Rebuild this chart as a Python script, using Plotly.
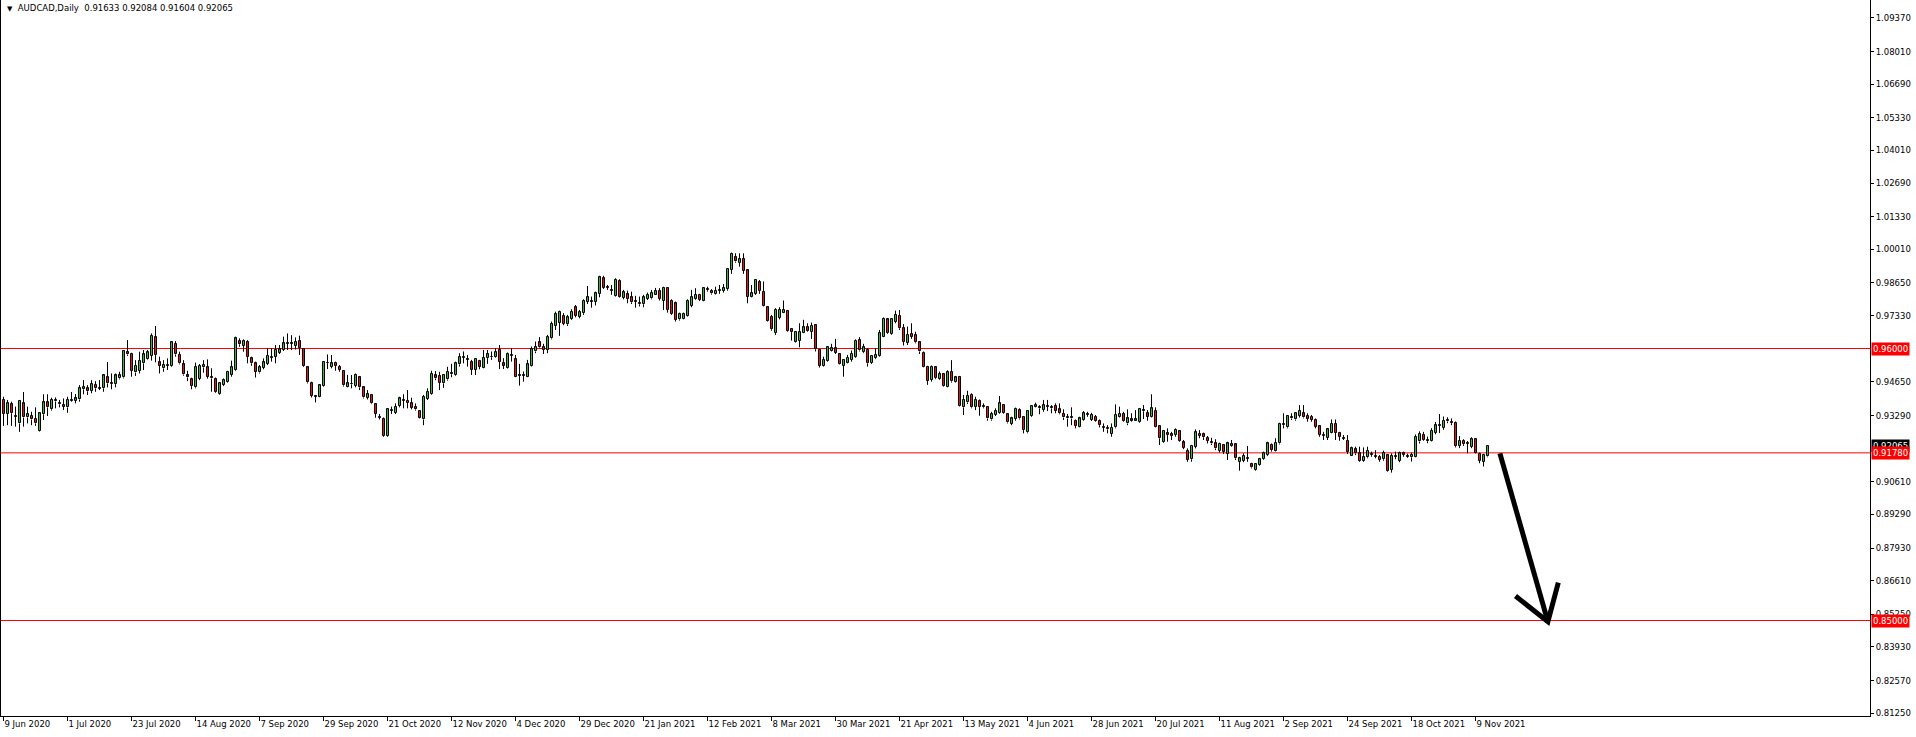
import plotly.graph_objects as go

# ---------------- data (AUDCAD daily) ----------------
date_ticks = ["9 Jun 2020", "1 Jul 2020", "23 Jul 2020", "14 Aug 2020", "7 Sep 2020",
              "29 Sep 2020", "21 Oct 2020", "12 Nov 2020", "4 Dec 2020", "29 Dec 2020",
              "21 Jan 2021", "12 Feb 2021", "8 Mar 2021", "30 Mar 2021", "21 Apr 2021",
              "13 May 2021", "4 Jun 2021", "28 Jun 2021", "20 Jul 2021", "11 Aug 2021",
              "2 Sep 2021", "24 Sep 2021", "18 Oct 2021", "9 Nov 2021"]
bars_per_tick = 16

opens = [
    .9392, .9335, .9375, .9327, .9297, .9378, .9321, .9327, .9315, .9265,  # 0
    .9334, .9382, .9354, .9386, .9378, .9371, .9362, .9389, .9388, .9394,  # 10
    .9435, .9439, .9429, .9452, .9440, .9439, .9483, .9459, .9456, .9479,  # 20
    .9483, .9587, .9579, .9503, .9510, .9540, .9556, .9571, .9645, .9544,  # 30
    .9520, .9531, .9530, .9618, .9574, .9536, .9491, .9475, .9443, .9478,  # 40
    .9524, .9524, .9483, .9475, .9415, .9452, .9466, .9493, .9513, .9630,  # 50
    .9611, .9628, .9560, .9540, .9503, .9522, .9537, .9563, .9567, .9583,  # 60
    .9594, .9620, .9621, .9611, .9630, .9598, .9524, .9459, .9406, .9402,  # 70
    .9450, .9541, .9526, .9543, .9526, .9509, .9446, .9455, .9450, .9483,  # 80
    .9443, .9401, .9412, .9375, .9324, .9315, .9246, .9351, .9340, .9367,  # 90
    .9389, .9389, .9378, .9365, .9347, .9313, .9397, .9415, .9491, .9489,  # 100
    .9459, .9475, .9500, .9493, .9536, .9562, .9557, .9544, .9513, .9550,  # 110
    .9523, .9561, .9567, .9567, .9594, .9540, .9523, .9573, .9557, .9493,  # 120
    .9493, .9486, .9531, .9588, .9625, .9608, .9594, .9641, .9693, .9705,  # 130
    .9733, .9698, .9720, .9767, .9729, .9743, .9790, .9792, .9790, .9821,  # 140
    .9884, .9848, .9836, .9813, .9873, .9806, .9819, .9807, .9792, .9783,  # 150
    .9779, .9801, .9803, .9818, .9833, .9792, .9845, .9794, .9783, .9718,  # 160
    .9720, .9732, .9772, .9799, .9817, .9794, .9840, .9834, .9819, .9837,  # 170
    .9833, .9840, .9918, .9969, .9947, .9962, .9918, .9810, .9821, .9868,  # 180
    .9829, .9767, .9729, .9664, .9725, .9745, .9752, .9678, .9628, .9631,  # 190
    .9664, .9686, .9668, .9695, .9594, .9531, .9551, .9590, .9601, .9578,  # 200
    .9531, .9543, .9554, .9565, .9635, .9585, .9594, .9543, .9561, .9570,  # 210
    .9648, .9718, .9658, .9709, .9732, .9682, .9624, .9658, .9654, .9625,  # 220
    .9583, .9527, .9473, .9524, .9476, .9497, .9446, .9506, .9464, .9486,  # 230
    .9362, .9382, .9412, .9365, .9389, .9369, .9365, .9313, .9331, .9338,  # 240
    .9371, .9334, .9295, .9315, .9351, .9324, .9261, .9328, .9365, .9362,  # 250
    .9351, .9369, .9363, .9367, .9354, .9335, .9321, .9317, .9308, .9284,  # 260
    .9311, .9335, .9311, .9324, .9307, .9284, .9277, .9254, .9281, .9324,  # 270
    .9335, .9297, .9313, .9308, .9304, .9351, .9338, .9324, .9347, .9286,  # 280
    .9223, .9257, .9254, .9250, .9266, .9220, .9187, .9152, .9203, .9254,  # 290
    .9253, .9239, .9220, .9216, .9187, .9210, .9173, .9214, .9212, .9142,  # 300
    .9145, .9156, .9133, .9109, .9129, .9152, .9169, .9210, .9185, .9216,  # 310
    .9290, .9281, .9321, .9313, .9327, .9338, .9328, .9324, .9311, .9286,  # 320
    .9250, .9239, .9259, .9295, .9259, .9237, .9227, .9166, .9192, .9176,  # 330
    .9146, .9160, .9173, .9165, .9162, .9152, .9169, .9109, .9165, .9146,  # 340
    .9176, .9166, .9160, .9162, .9224, .9251, .9225, .9226, .9259, .9287,  # 350
    .9278, .9305, .9304, .9300, .9206, .9226, .9217, .9203, .9234, .9174,  # 360
    .9143, .91633,                                                          # 370
]

highs = [
    .9405, .9392, .9385, .9365, .9392, .9424, .9365, .9344, .9362, .9340,
    .9415, .9415, .9401, .9402, .9392, .9398, .9405, .9424, .9416, .9452,
    .9472, .9452, .9472, .9468, .9472, .9497, .9545, .9499, .9499, .9506,
    .9594, .9634, .9583, .9553, .9587, .9594, .9594, .9661, .9691, .9567,
    .9553, .9560, .9628, .9630, .9587, .9553, .9510, .9482, .9543, .9537,
    .9553, .9556, .9520, .9483, .9462, .9479, .9510, .9551, .9648, .9641,
    .9637, .9634, .9567, .9547, .9533, .9560, .9601, .9601, .9614, .9614,
    .9648, .9661, .9654, .9645, .9652, .9601, .9526, .9466, .9412, .9456,
    .9549, .9576, .9574, .9547, .9533, .9513, .9493, .9493, .9499, .9489,
    .9448, .9432, .9415, .9378, .9335, .9321, .9358, .9365, .9378, .9405,
    .9415, .9432, .9401, .9378, .9351, .9412, .9439, .9510, .9509, .9506,
    .9497, .9526, .9538, .9547, .9581, .9588, .9574, .9554, .9561, .9554,
    .9594, .9594, .9588, .9601, .9614, .9561, .9584, .9601, .9574, .9538,
    .9507, .9554, .9608, .9628, .9646, .9619, .9655, .9709, .9749, .9753,
    .9743, .9736, .9759, .9776, .9756, .9799, .9853, .9810, .9830, .9894,
    .9894, .9857, .9857, .9884, .9880, .9837, .9834, .9830, .9813, .9810,
    .9817, .9826, .9837, .9845, .9844, .9850, .9848, .9799, .9790, .9745,
    .9745, .9799, .9837, .9844, .9821, .9846, .9850, .9840, .9850, .9857,
    .9861, .9925, .9988, .9985, .9985, .9985, .9921, .9857, .9880, .9877,
    .9871, .9772, .9736, .9763, .9767, .9794, .9756, .9682, .9671, .9702,
    .9716, .9702, .9705, .9695, .9597, .9567, .9608, .9619, .9639, .9581,
    .9557, .9574, .9592, .9637, .9646, .9619, .9601, .9574, .9601, .9675,
    .9726, .9722, .9722, .9753, .9756, .9699, .9689, .9702, .9668, .9628,
    .9588, .9530, .9531, .9527, .9507, .9500, .9512, .9553, .9489, .9489,
    .9412, .9429, .9419, .9405, .9394, .9378, .9367, .9344, .9358, .9408,
    .9375, .9338, .9324, .9361, .9358, .9327, .9351, .9371, .9381, .9371,
    .9392, .9392, .9371, .9378, .9378, .9354, .9335, .9362, .9313, .9324,
    .9347, .9344, .9340, .9331, .9313, .9297, .9290, .9297, .9374, .9365,
    .9344, .9354, .9338, .9351, .9358, .9371, .9351, .9415, .9362, .9290,
    .9270, .9277, .9263, .9277, .9270, .9230, .9196, .9210, .9273, .9270,
    .9260, .9246, .9239, .9233, .9219, .9214, .9223, .9230, .9216, .9162,
    .9176, .9206, .9138, .9136, .9158, .9183, .9223, .9216, .9237, .9300,
    .9338, .9331, .9338, .9343, .9371, .9371, .9338, .9331, .9317, .9290,
    .9263, .9277, .9313, .9313, .9263, .9250, .9250, .9203, .9203, .9203,
    .9200, .9203, .9183, .9189, .9169, .9187, .9173, .9176, .9183, .9183,
    .9183, .9175, .9179, .9252, .9265, .9263, .9244, .9278, .9303, .9335,
    .9325, .9322, .9317, .9305, .9246, .9233, .9226, .9241, .9237, .9179,
    .9174, .92084,
]

lows = [
    .9287, .9290, .9287, .9284, .9263, .9284, .9297, .9290, .9287, .9263,
    .9311, .9327, .9349, .9358, .9362, .9351, .9340, .9385, .9378, .9385,
    .9415, .9412, .9419, .9425, .9432, .9425, .9443, .9435, .9443, .9475,
    .9479, .9570, .9486, .9489, .9499, .9513, .9553, .9551, .9544, .9499,
    .9506, .9513, .9526, .9567, .9536, .9490, .9468, .9435, .9439, .9472,
    .9502, .9478, .9425, .9421, .9412, .9448, .9462, .9486, .9510, .9607,
    .9587, .9540, .9530, .9483, .9499, .9516, .9533, .9547, .9540, .9578,
    .9590, .9594, .9594, .9596, .9574, .9526, .9459, .9402, .9382, .9401,
    .9446, .9517, .9520, .9510, .9506, .9446, .9443, .9439, .9443, .9432,
    .9398, .9394, .9375, .9320, .9313, .9243, .9243, .9335, .9335, .9362,
    .9358, .9358, .9354, .9349, .9317, .9290, .9392, .9412, .9472, .9432,
    .9441, .9470, .9484, .9490, .9527, .9540, .9527, .9493, .9493, .9516,
    .9520, .9538, .9554, .9563, .9517, .9517, .9519, .9547, .9484, .9450,
    .9466, .9484, .9527, .9581, .9604, .9578, .9581, .9637, .9675, .9651,
    .9694, .9691, .9716, .9726, .9722, .9736, .9780, .9765, .9774, .9807,
    .9841, .9837, .9817, .9810, .9806, .9799, .9783, .9780, .9765, .9770,
    .9767, .9796, .9799, .9817, .9794, .9756, .9745, .9736, .9709, .9713,
    .9718, .9729, .9767, .9796, .9792, .9791, .9830, .9818, .9817, .9821,
    .9826, .9834, .9902, .9947, .9931, .9902, .9783, .9807, .9817, .9821,
    .9770, .9709, .9672, .9655, .9718, .9743, .9668, .9632, .9624, .9605,
    .9662, .9668, .9639, .9588, .9523, .9527, .9547, .9588, .9578, .9534,
    .9486, .9540, .9547, .9562, .9588, .9581, .9527, .9538, .9557, .9567,
    .9646, .9659, .9655, .9702, .9675, .9612, .9614, .9639, .9621, .9578,
    .9524, .9453, .9466, .9476, .9473, .9446, .9443, .9462, .9462, .9365,
    .9331, .9375, .9358, .9351, .9328, .9358, .9308, .9308, .9327, .9335,
    .9335, .9297, .9290, .9308, .9313, .9257, .9257, .9324, .9362, .9334,
    .9344, .9347, .9338, .9338, .9334, .9311, .9284, .9290, .9277, .9281,
    .9308, .9324, .9307, .9304, .9281, .9263, .9257, .9243, .9277, .9321,
    .9304, .9290, .9304, .9308, .9300, .9315, .9308, .9321, .9281, .9210,
    .9219, .9223, .9230, .9243, .9223, .9193, .9142, .9142, .9196, .9237,
    .9230, .9216, .9210, .9189, .9179, .9173, .9149, .9203, .9149, .9106,
    .9140, .9142, .9115, .9106, .9126, .9149, .9165, .9183, .9183, .9212,
    .9277, .9277, .9311, .9308, .9321, .9317, .9304, .9304, .9277, .9243,
    .9230, .9230, .9257, .9230, .9227, .9230, .9173, .9165, .9169, .9142,
    .9142, .9156, .9162, .9156, .9142, .9146, .9102, .9098, .9152, .9140,
    .9162, .9158, .9143, .9160, .9216, .9227, .9217, .9224, .9253, .9258,
    .9271, .9298, .9290, .9200, .9197, .9206, .9176, .9197, .9174, .9136,
    .9123, .91604,
]

closes = [
    .9335, .9378, .9338, .9324, .9388, .9321, .9334, .9313, .9297, .9338,
    .9382, .9362, .9392, .9393, .9374, .9365, .9392, .9392, .9398, .9439,
    .9443, .9427, .9456, .9439, .9436, .9491, .9459, .9456, .9491, .9491,
    .9590, .9576, .9510, .9530, .9551, .9576, .9584, .9650, .9574, .9530,
    .9533, .9533, .9625, .9576, .9540, .9495, .9483, .9448, .9526, .9529,
    .9533, .9486, .9479, .9425, .9459, .9472, .9506, .9524, .9641, .9617,
    .9630, .9567, .9540, .9506, .9524, .9544, .9570, .9567, .9594, .9596,
    .9621, .9621, .9618, .9626, .9603, .9530, .9463, .9408, .9405, .9451,
    .9545, .9543, .9540, .9529, .9513, .9451, .9459, .9456, .9493, .9443,
    .9402, .9415, .9378, .9335, .9320, .9247, .9354, .9349, .9365, .9398,
    .9392, .9381, .9361, .9354, .9320, .9405, .9425, .9497, .9479, .9462,
    .9493, .9506, .9496, .9540, .9565, .9565, .9554, .9513, .9557, .9527,
    .9563, .9577, .9565, .9585, .9547, .9531, .9577, .9570, .9486, .9490,
    .9489, .9536, .9597, .9608, .9608, .9594, .9646, .9699, .9739, .9749,
    .9699, .9726, .9748, .9733, .9749, .9792, .9807, .9788, .9823, .9888,
    .9846, .9845, .9833, .9877, .9810, .9827, .9802, .9787, .9788, .9779,
    .9807, .9817, .9826, .9834, .9801, .9845, .9756, .9740, .9716, .9739,
    .9739, .9792, .9807, .9817, .9796, .9844, .9836, .9823, .9834, .9834,
    .9844, .9922, .9983, .9952, .9961, .9915, .9810, .9823, .9877, .9833,
    .9772, .9713, .9678, .9756, .9756, .9756, .9672, .9666, .9666, .9666,
    .9686, .9672, .9691, .9597, .9531, .9554, .9605, .9601, .9583, .9536,
    .9554, .9563, .9578, .9632, .9592, .9605, .9540, .9570, .9574, .9662,
    .9720, .9662, .9718, .9736, .9682, .9628, .9655, .9648, .9625, .9588,
    .9527, .9470, .9527, .9480, .9496, .9450, .9504, .9467, .9483, .9367,
    .9392, .9409, .9362, .9392, .9365, .9362, .9317, .9334, .9347, .9378,
    .9338, .9301, .9317, .9355, .9317, .9270, .9347, .9367, .9370, .9358,
    .9370, .9365, .9358, .9349, .9338, .9321, .9317, .9321, .9286, .9317,
    .9338, .9331, .9331, .9308, .9290, .9280, .9273, .9280, .9331, .9335,
    .9308, .9317, .9308, .9313, .9355, .9346, .9324, .9358, .9284, .9237,
    .9266, .9250, .9247, .9270, .9227, .9199, .9149, .9206, .9261, .9247,
    .9241, .9226, .9216, .9196, .9214, .9183, .9216, .9207, .9156, .9156,
    .9165, .9153, .9119, .9133, .9152, .9176, .9216, .9189, .9219, .9295,
    .9294, .9327, .9317, .9338, .9347, .9321, .9315, .9311, .9284, .9250,
    .9246, .9273, .9295, .9259, .9243, .9234, .9183, .9196, .9176, .9146,
    .9162, .9187, .9169, .9162, .9149, .9179, .9106, .9166, .9162, .9176,
    .9170, .9163, .9170, .9243, .9256, .9231, .9232, .9268, .9289, .9290,
    .9307, .9309, .9298, .9205, .9226, .9213, .9214, .9233, .9176, .9147,
    .9170, .92065,
]

# horizontal levels drawn on the chart and their price-scale labels
level_prices = [0.96000, 0.91780, 0.85000]
level_labels = ["0.96000", "0.91780", "0.85000"]
last_price = 0.92065
title_text = "AUDCAD,Daily  0.91633 0.92084 0.91604 0.92065"

# price-scale tick labels
ytick_vals = [1.09370, 1.08010, 1.06690, 1.05330, 1.04010, 1.02690, 1.01330, 1.00010,
              0.98650, 0.97330, 0.94650, 0.93290, 0.90610, 0.89290, 0.87930, 0.86610,
              0.85250, 0.83930, 0.82570, 0.81250]

# hand-drawn arrow (bar index, price)
arrow_shaft_x = [374.1, 386.1]
arrow_shaft_y = [0.9176, 0.8495]
arrow_head_x = [378.0, 386.1, 388.7]
arrow_head_y = [0.8599, 0.8495, 0.8653]

# ---------------- figure ----------------
GREEN = "#3cb43c"
RED = "#e41414"
FONT = "DejaVu Sans"
FS = 8.5

n = len(opens)
idx = list(range(n))
min_body = 0.00012

# wicks drawn only outside the body (bars render beneath scatter lines in plotly)
wick_x, wick_y = [], []
for i in idx:
    top = max(opens[i], closes[i])
    bot = min(opens[i], closes[i])
    if highs[i] > top:
        wick_x += [i, i, None]
        wick_y += [top, highs[i], None]
    if lows[i] < bot:
        wick_x += [i, i, None]
        wick_y += [lows[i], bot, None]

up = [i for i in idx if closes[i] >= opens[i]]
dn = [i for i in idx if closes[i] < opens[i]]

fig = go.Figure()
fig.add_trace(go.Bar(x=up, base=[opens[i] for i in up],
                     y=[max(closes[i] - opens[i], min_body) for i in up],
                     width=0.5, marker=dict(color=GREEN, line=dict(color="black", width=1)),
                     hoverinfo="skip", showlegend=False))
fig.add_trace(go.Bar(x=dn, base=[closes[i] for i in dn],
                     y=[max(opens[i] - closes[i], min_body) for i in dn],
                     width=0.5, marker=dict(color=RED, line=dict(color="black", width=1)),
                     hoverinfo="skip", showlegend=False))
fig.add_trace(go.Scatter(x=wick_x, y=wick_y, mode="lines",
                         line=dict(color="black", width=1), hoverinfo="skip",
                         showlegend=False))

# arrow
fig.add_trace(go.Scatter(x=arrow_shaft_x, y=arrow_shaft_y, mode="lines",
                         line=dict(color="black", width=5), hoverinfo="skip",
                         showlegend=False, cliponaxis=False))
fig.add_trace(go.Scatter(x=arrow_head_x, y=arrow_head_y, mode="lines",
                         line=dict(color="black", width=5), hoverinfo="skip",
                         showlegend=False, cliponaxis=False))

shapes = []
for p in level_prices:
    shapes.append(dict(type="line", xref="paper", x0=0, x1=1, yref="y", y0=p, y1=p,
                       line=dict(color="#ff0000", width=1), layer="below"))

annotations = [
    dict(xref="paper", x=0, xanchor="left", xshift=4, yref="paper", y=1, yanchor="top",
         yshift=-1, showarrow=False, bgcolor="white",
         text="<span style='font-size:7px'>▼</span>  " + title_text,
         font=dict(family=FONT, size=FS, color="black")),
    dict(xref="paper", x=1, xanchor="left", xshift=1, yref="y", y=last_price,
         yanchor="middle", showarrow=False, bgcolor="black", borderpad=1,
         text=f"{last_price:.5f}", font=dict(family=FONT, size=FS, color="white")),
]
for p, lab in zip(level_prices, level_labels):
    annotations.append(dict(xref="paper", x=1, xanchor="left", xshift=1, yref="y", y=p,
                            yanchor="middle", showarrow=False, bgcolor="#ff0000",
                            borderpad=1, text=lab,
                            font=dict(family=FONT, size=FS, color="white")))

fig.update_layout(
    width=1916, height=737,
    margin=dict(l=1, r=46, t=0, b=21),
    paper_bgcolor="white", plot_bgcolor="white",
    barmode="overlay", bargap=0,
    showlegend=False,
    shapes=shapes, annotations=annotations,
    font=dict(family=FONT, size=FS, color="black"),
    xaxis=dict(range=[-0.625, 466.625], showgrid=False, zeroline=False,
               showline=True, linecolor="black", linewidth=1, mirror=False,
               ticks="outside", ticklen=4, tickcolor="black", tickwidth=1,
               tickvals=[k * bars_per_tick for k in range(len(date_ticks))],
               ticktext=date_ticks, ticklabelposition="outside right",
               tickfont=dict(family=FONT, size=FS, color="black"), fixedrange=True),
    yaxis=dict(range=[0.81138, 1.10094], side="right", showgrid=False, zeroline=False,
               showline=True, linecolor="black", linewidth=1, mirror=True,
               ticks="outside", ticklen=3, tickcolor="black", tickwidth=1,
               tickvals=ytick_vals, ticktext=[f"{v:.5f}" for v in ytick_vals],
               tickfont=dict(family=FONT, size=FS, color="black"), fixedrange=True),
)

fig.write_html(
    "out.html",
    config={"displayModeBar": False},
    post_script="document.body.style.margin='0';document.body.style.overflow='hidden';",
)
